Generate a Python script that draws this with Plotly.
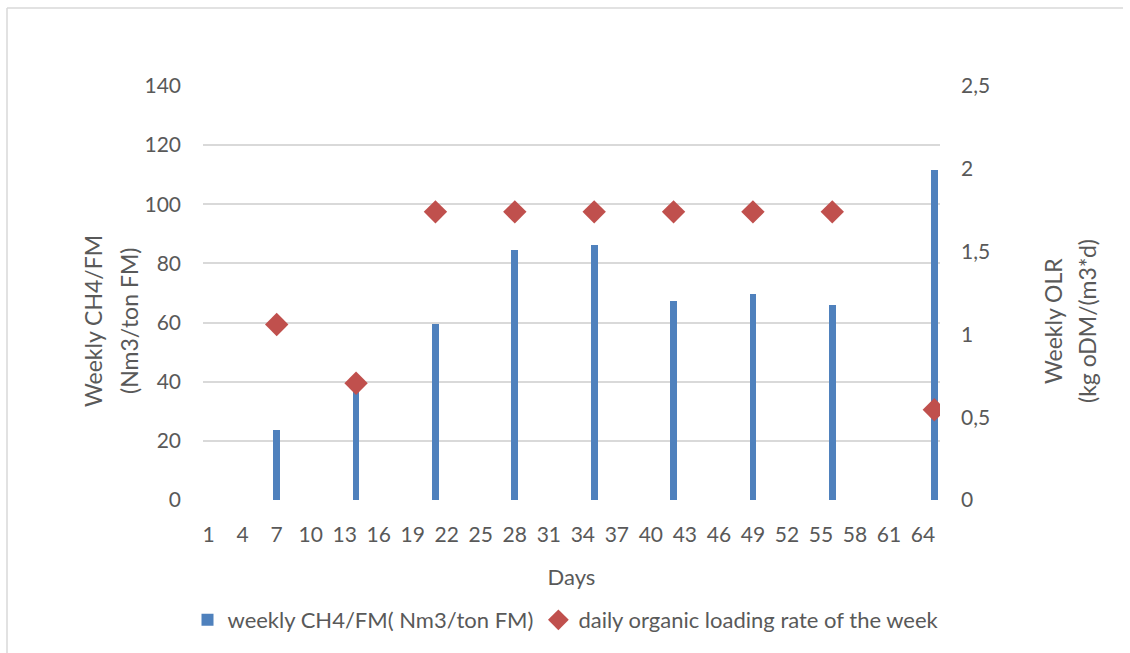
import plotly.graph_objects as go

# ---- data ----
bar_days = [7, 14, 21, 28, 35, 42, 49, 56, 65]
ch4_fm = [23.8, 38.0, 59.5, 84.5, 86.4, 67.3, 69.8, 66.1, 111.6]
olr_days = [7, 14, 21, 28, 35, 42, 49, 56, 65]
olr = [1.06, 0.705, 1.74, 1.74, 1.74, 1.74, 1.74, 1.74, 0.545]
x_ticks = [1, 4, 7, 10, 13, 16, 19, 22, 25, 28, 31, 34, 37, 40, 43, 46, 49, 52, 55, 58, 61, 64]
y_left_ticks = [0, 20, 40, 60, 80, 100, 120, 140]
y_right_ticks = [0, 0.5, 1, 1.5, 2, 2.5]

W, H = 1130, 653
PL, PR = 203, 940          # plot area left/right in px
MT, MB = 86, 153
PH = H - MT - MB

TXT = "#595959"
FONT = "Lato"

def px_x(p):
    return p / W

def px_y(p):
    return (H - MB - p) / PH

fig = go.Figure()
fig.add_trace(go.Bar(
    x=bar_days, y=ch4_fm, width=0.6,
    marker=dict(color="#4F81BD", line=dict(width=0)),
    name="weekly CH4/FM( Nm3/ton FM)", yaxis="y",
))
fig.add_trace(go.Scatter(
    x=olr_days, y=olr, mode="markers",
    marker=dict(symbol="diamond", size=18, color="#C0504D", line=dict(width=0)),
    name="daily organic loading rate of the week", yaxis="y2",
))

fig.update_layout(
    width=W, height=H,
    margin=dict(l=0, r=0, t=MT, b=MB, autoexpand=False),
    paper_bgcolor="white", plot_bgcolor="white",
    separators=", ",
    font=dict(family=FONT, size=21, color=TXT),
    showlegend=True,
    legend=dict(orientation="h", x=px_x(566), xanchor="center", y=px_y(620), yanchor="middle",
                font=dict(size=22, color=TXT), itemwidth=30, traceorder="normal"),
    xaxis=dict(domain=[px_x(PL), px_x(PR)], range=[0.5, 65.5], tickmode="array",
               tickvals=x_ticks, ticktext=[str(v) for v in x_ticks], tickangle=0,
               showgrid=False, zeroline=False, showline=False, ticks="",
               ticklabelstandoff=20, tickfont=dict(size=21),
               title=dict(text="Days", font=dict(size=22, color=TXT), standoff=24)),
    yaxis=dict(range=[0, 140], tickmode="array", tickvals=y_left_ticks,
               showgrid=True, gridcolor="#D9D9D9", gridwidth=1.5,
               zeroline=False, showline=False, ticks="", ticklabelstandoff=21,
               tickfont=dict(size=21)),
    yaxis2=dict(range=[0, 2.5], tickmode="array", tickvals=y_right_ticks,
                overlaying="y", side="right", showgrid=False, zeroline=False,
                showline=False, ticks="", ticklabelstandoff=20,
                tickfont=dict(size=21)),
    bargap=0,
)

# Axis titles (two lines each, Excel-style spacing)
for x_px, txt in [(93, "Weekly CH4/FM"), (129, "(Nm3/ton FM)"),
                  (1053, "Weekly OLR"), (1087, "(kg oDM/(m3*d)")]:
    fig.add_annotation(x=px_x(x_px), y=px_y(321), xref="paper", yref="paper",
                       text=txt, textangle=-90, showarrow=False,
                       font=dict(size=23, color=TXT), xanchor="center", yanchor="middle")

# chart-area border (left & top)
fig.add_shape(type="line", xref="paper", yref="paper",
              x0=px_x(7), x1=px_x(7), y0=px_y(8), y1=px_y(660),
              line=dict(color="#D9D9D9", width=1.5))
fig.add_shape(type="line", xref="paper", yref="paper",
              x0=px_x(7), x1=px_x(1123), y0=px_y(8), y1=px_y(8),
              line=dict(color="#D9D9D9", width=1.5))

fig.write_html("out.html")
